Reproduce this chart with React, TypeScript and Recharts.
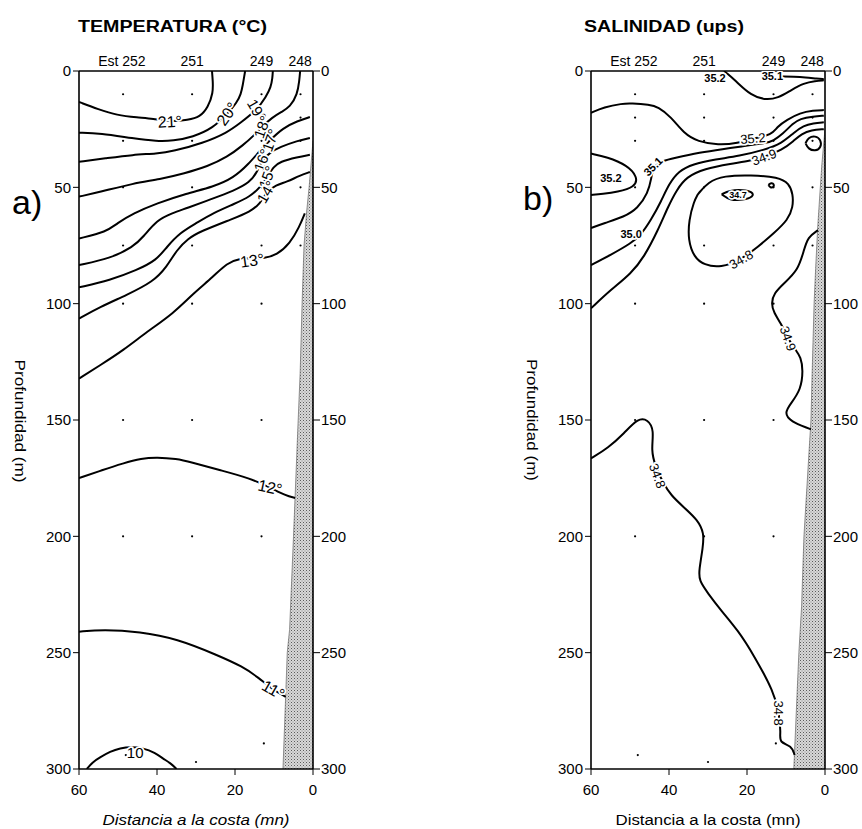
import React from 'react';
import { ComposedChart, XAxis, YAxis, Scatter, Area } from 'recharts';

type P = [number, number];
type L = [number, number, string];

// ---------- axes ----------
const DIST_TICKS = [60, 40, 20, 0];
const DEPTH_TICKS = [0, 50, 100, 150, 200, 250, 300];
const STATION_TICKS = [49, 31, 13.2, 3.3];
const STATION_LABELS = ['Est 252', '251', '249', '248'];

// ---------- sampling stations (distance mn, depth m) ----------
const STATIONS = [48.7, 31, 13.2];
const SAMPLE_DEPTHS_A = [10, 30, 50, 75, 100, 150, 200];
const SAMPLE_DEPTHS_B = [10, 20, 30, 50, 75, 100, 150, 200];
const SHELF_SAMPLES: P[] = [[3.2, 10], [3.2, 20], [3.2, 30], [3.2, 50], [3.2, 75]];
const DEEP_SAMPLES: P[] = [[48, 294], [30, 297], [12.6, 289]];

// ---------- a) temperature contours (distance mn, depth m) ----------
const T21: P[] = [[60, 13.3], [55, 16.5], [50.3, 19], [45, 20], [41, 20.5], [36.7, 21.8], [32, 21], [29, 19.8], [26.9, 15.5], [25.6, 9.5], [25.7, 4], [25.9, 0]];
const T20: P[] = [[60, 26.5], [54.6, 26.7], [46, 29], [40, 30.2], [35.9, 30], [30.8, 28.4], [25.6, 24.5], [22, 18.5], [19.5, 13.5], [18.5, 10], [18, 6], [17.6, 2], [17.4, 0]];
const T19: P[] = [[60, 39], [53, 37.5], [46.2, 36], [40, 35.5], [35.9, 34.5], [28.2, 31], [22, 26.5], [18.7, 22.4], [14.4, 16.8], [12, 11], [10.8, 6.9], [10.4, 3], [10.3, 0]];
const T18: P[] = [[60, 54], [54.6, 52], [46.1, 48.3], [39.2, 46.5], [33, 44], [27, 41], [22, 37], [18, 32], [15, 27.5], [13.1, 24], [10.5, 20], [8, 17.5], [5.9, 15.5], [4, 10], [3.5, 4], [3.3, 0]];
const T17: P[] = [[60, 72], [52.9, 69.1], [50.3, 65.5], [46.1, 61.2], [40.1, 56.9], [32.4, 52.6], [25.6, 49.8], [20.4, 46], [16.5, 40], [13.5, 34], [11, 29.7], [7.7, 24.5], [4, 21.5], [0.8, 19.8]];
const T16: P[] = [[60, 83.4], [52, 80.6], [46.1, 75.6], [43.5, 71.3], [40.1, 64.1], [36, 61], [32.4, 59], [26, 55], [20.4, 51.5], [16.2, 48], [14.2, 43], [13.1, 38.3], [11, 35], [8.5, 32.7], [4, 30], [0.8, 28.8]];
const T15: P[] = [[60, 93], [52, 89.9], [45.2, 85.6], [40.1, 81.3], [37.5, 75.6], [34.1, 69.5], [30, 65.5], [25.6, 61], [20, 57], [16.2, 54], [13.5, 50], [11.8, 45.6], [10, 41], [8.5, 39], [4, 37], [0.8, 36]];
const T14: P[] = [[60, 106.4], [54.6, 101.4], [47.8, 96.3], [41, 90.6], [37.5, 84.2], [35, 77], [32, 72], [29, 69], [20.4, 63.4], [16.2, 60.5], [13.5, 57], [12, 52], [9.5, 49], [6.7, 47.7], [3.5, 45], [0.8, 43.4]];
const T13: P[] = [[60, 132.2], [54.6, 126.5], [48.6, 120], [42.6, 112.1], [35.8, 104.2], [30.7, 95.6], [25.6, 88.5], [22.1, 82.5], [18.5, 80.5], [15.6, 80.5], [12.5, 80.5], [9.3, 79.1], [5.9, 74.1], [3.5, 67], [2.1, 61.2]];
const T12: P[] = [[60, 175], [54, 171.5], [48.7, 168.6], [44, 166.5], [40, 166], [35, 166.7], [31.5, 168], [24, 171.5], [16.2, 175], [11, 179], [7, 182.5], [4.6, 183.5]];
const T11: P[] = [[60, 241], [53.8, 240], [44.4, 241], [34.9, 244], [24.6, 251], [18, 256], [14.1, 260.6], [10.2, 266], [7, 269]];
const T10: P[] = [[58, 300], [56.5, 297], [54.6, 295], [52, 292.5], [49.5, 291], [46.5, 290.5], [43.6, 291], [40.5, 293], [38.5, 295.5], [36.5, 297.5], [35, 300]];
const TEMP_CONTOURS = [T21, T20, T19, T18, T17, T16, T15, T14, T13, T12, T11, T10];

const TEMP_LABELS: L[] = [
  [36.7, 21.8, '21°'], [22, 18.5, '20°'], [14.4, 16.8, '19°'], [13.1, 24, '18°'],
  [11, 29.7, '17°'], [13.1, 38.3, '16°'], [11.8, 45.6, '15°'], [12, 52, '14°'],
  [15.6, 81.5, '13°'], [11, 179, '12°'], [10.2, 266, '11°'], [45.6, 293, '10'],
];
const TEMP_LABEL_ROT = [-3, -55, 60, -70, -70, -70, -70, -60, -8, 12, 30, 0];
const TEMP_LABEL_SIZE = [16, 16, 15, 15, 15, 15, 15, 15, 16, 16, 16, 15];

const COAST_A: P[] = [[0, 30], [1, 50], [1.6, 60], [2.3, 75], [2.8, 100], [3.3, 130], [3.8, 150], [5, 200], [6, 240], [6.6, 250], [7.7, 300]];

// ---------- b) salinity contours ----------
const S352_TOP: P[] = [[25.9, 0], [24, 2.5], [22.3, 5.3], [19, 10.3], [15.6, 12.5], [12, 11.7], [8.7, 8.2], [5.4, 5.2], [2.5, 4.3], [0.3, 4]];
const S351_TOP: P[] = [[11, 2.3], [8, 2.5], [5, 2.8], [2, 3.3], [0.3, 3.5]];
const S352_BIG: P[] = [[60, 18], [56.7, 15.5], [52, 14], [49.7, 13.9], [45, 14.5], [42.8, 15.4], [39.5, 19.7], [36.2, 26.8], [32.6, 30.4], [27.4, 31.8], [22.3, 31], [18.5, 29], [13.6, 27.5], [12.3, 24], [9.8, 21], [6.4, 18], [3, 17], [0.3, 16.8]];
const S352_WEST: P[] = [[60, 35.5], [55.9, 37], [50.8, 40.4], [48, 45.6], [48.7, 49.9], [53.3, 52], [57, 52.8], [60, 53.3]];
const S351: P[] = [[60, 67.5], [56.7, 65.4], [51.5, 62.7], [48, 59], [45.4, 52.5], [44.5, 46], [44.1, 41], [41.5, 38.5], [39, 37.5], [32, 35], [26, 33.5], [21.8, 32.5], [15, 31], [13.3, 30], [10.8, 27], [8.2, 22.5], [6.4, 20.5], [3, 19.5], [0.3, 19.2]];
const S350: P[] = [[60, 83.4], [54.9, 79], [49.7, 74], [47.2, 70.5], [44.6, 64], [42, 56], [40, 48.5], [37.5, 43], [34, 40], [28, 38], [22, 36.5], [15.6, 34], [11, 31], [8, 26.5], [5.5, 23.5], [3, 22.5], [0.3, 22]];
const S349: P[] = [[60, 102], [54.9, 94], [49.7, 87], [46.4, 80], [42.8, 68.4], [40.3, 58.5], [38, 51], [35.5, 45.5], [31, 42], [24, 39.8], [19, 38.5], [15.6, 37], [11, 34], [8, 30], [6, 27], [3.5, 25.3], [0.3, 25]];
const S_SHORE_LOOP: P[] = [[5, 31], [4.2, 28.5], [2.5, 27.8], [1, 29.5], [1, 33], [2.5, 34.5], [4.3, 33.5], [5, 31]];
const S348_MID: P[] = [[32.6, 53], [30, 47.7], [25.9, 45], [19, 44.7], [12, 45.6], [9.2, 48.3], [8.2, 53], [8.2, 58.5], [9.5, 64], [13.1, 69.7], [17.2, 75.6], [21.5, 81], [26.7, 84.6], [31, 83.4], [33.6, 80], [35.1, 72.7], [34.9, 64], [33.6, 56], [32.6, 53]];
const S347: P[] = [[26.5, 53], [24.5, 51.3], [21, 51], [18.5, 52], [18.3, 54], [21, 55.5], [24.5, 55.5], [26.5, 53]];
const S347_DOT: P[] = [[14.5, 49], [13.8, 48], [13, 48.6], [13.2, 50], [14, 50.2], [14.5, 49]];
const S349_COAST: P[] = [[1.8, 68.4], [4.4, 71.4], [5.4, 77], [6.9, 85.6], [10.5, 91.2], [13.1, 95.5], [13.8, 99.8], [13.1, 104], [11.3, 108.4], [9.5, 115], [7.5, 120], [6.2, 123], [5.6, 128.6], [6.2, 137], [8.7, 142.8], [10.5, 147], [8.7, 150.8], [4.4, 153.5], [3.6, 154]];
const S348_LOW: P[] = [[60, 166.5], [55.6, 162], [51.5, 155.7], [48, 149.2], [45.4, 149.7], [43.8, 154.4], [44.6, 163], [43.5, 170], [41.5, 177], [39.5, 182.4], [36.2, 187.5], [32.6, 193], [31, 198.7], [31.3, 204.7], [32.3, 214.6], [32.3, 219], [30, 224.5], [26.7, 231.8], [22.3, 240.4], [18.2, 251.2], [13.1, 267], [11.8, 275.7], [11.3, 284.7], [11.8, 288.6], [8.5, 290], [7.8, 294]];
const SAL_CONTOURS = [S352_TOP, S351_TOP, S352_BIG, S352_WEST, S351, S350, S349, S_SHORE_LOOP, S348_MID, S347, S347_DOT, S349_COAST, S348_LOW];

const SAL_LABELS: L[] = [
  [28.2, 3.2, '35.2'], [13.5, 2.2, '35.1'], [18.5, 29, '35.2'], [54.9, 46, '35.2'],
  [44.1, 41, '35.1'], [49.7, 70, '35.0'], [15.6, 37, '34.9'], [21.5, 81, '34.8'],
  [22.3, 53.3, '34.7'], [9.5, 115, '34.9'], [43, 174, '34.8'], [11.8, 276, '34.8'],
];
const SAL_LABEL_ROT = [0, 0, -5, 0, -45, 0, -20, -30, 0, 70, 70, 90];
const SAL_LABEL_SIZE = [11, 11, 13, 11, 11, 11, 13, 13, 9, 13, 13, 13];

const COAST_B: P[] = [[0, 25], [0.8, 40], [1.4, 55], [1.9, 68], [2.4, 85], [2.8, 100], [3.3, 130], [3.6, 150], [5.4, 200], [6, 230], [6.7, 250], [8, 300]];

// ---------- helpers ----------
const FONT = '"Liberation Sans", Arial, Helvetica, sans-serif';
const xy = (pts: P[]) => pts.map(([x, y]) => ({ x, y }));
const grid = (depths: number[]): P[] => {
  const out: P[] = [];
  STATIONS.forEach((s) => depths.forEach((d) => out.push([s, d])));
  return out.concat(SHELF_SAMPLES, DEEP_SAMPLES);
};
const stationLabel = (v: number) => {
  const i = STATION_TICKS.findIndex((t) => Math.abs(t - v) < 0.01);
  return i >= 0 ? STATION_LABELS[i] : '';
};

const NoShape = () => <g />;
const DotShape = (props: any) => <circle cx={props.cx} cy={props.cy} r={1.1} fill="#000" />;

type PanelProps = {
  contours: P[][];
  labels: L[];
  rot: number[];
  size: number[];
  bold: boolean;
  coast: P[];
  dots: P[];
  width: number;
  margin: { top: number; right: number; bottom: number; left: number };
  rightWidth: number;
  pattern: string;
};

function Panel(p: PanelProps) {
  const labelData = p.labels.map(([x, y, t], i) => ({ x, y, t, i }));
  const LabelShape = (props: any) => {
    const { cx, cy, payload } = props;
    const i = payload.i;
    const s = p.size[i];
    return (
      <text
        x={cx}
        y={cy}
        transform={`rotate(${p.rot[i]} ${cx} ${cy})`}
        textAnchor="middle"
        dominantBaseline="central"
        fontFamily={FONT}
        fontSize={s}
        fontWeight={p.bold && s <= 11 ? 'bold' : 'normal'}
        fill="#000"
        stroke="#fff"
        strokeWidth={3.5}
        strokeLinejoin="round"
        style={{ paintOrder: 'stroke' }}
      >
        {payload.t}
      </text>
    );
  };
  const tickStyle = { fontSize: 15, fill: '#000', fontFamily: FONT };
  const axisStyle = { stroke: '#000', strokeWidth: 1.6 };
  return (
    <ComposedChart width={p.width} height={829} margin={p.margin}>
      <XAxis
        xAxisId="b"
        type="number"
        dataKey="x"
        domain={[0, 60]}
        reversed
        allowDataOverflow
        ticks={DIST_TICKS}
        interval={0}
        height={40}
        tickSize={6}
        tickMargin={9}
        tick={tickStyle}
        axisLine={axisStyle}
        tickLine={{ stroke: '#000' }}
      />
      <XAxis
        xAxisId="t"
        orientation="top"
        type="number"
        dataKey="x"
        domain={[0, 60]}
        reversed
        allowDataOverflow
        ticks={STATION_TICKS}
        interval={0}
        height={30}
        tickSize={3}
        tickMargin={2}
        tickLine={false}
        tickFormatter={stationLabel}
        tick={{ fontSize: 14, fill: '#000', fontFamily: FONT }}
        axisLine={axisStyle}
      />
      <YAxis
        yAxisId="l"
        type="number"
        dataKey="y"
        domain={[0, 300]}
        reversed
        allowDataOverflow
        ticks={DEPTH_TICKS}
        interval={0}
        width={50}
        tickSize={6}
        tickMargin={2}
        tick={tickStyle}
        axisLine={axisStyle}
        tickLine={{ stroke: '#000' }}
      />
      <YAxis
        yAxisId="r"
        orientation="right"
        type="number"
        dataKey="y"
        domain={[0, 300]}
        reversed
        allowDataOverflow
        ticks={DEPTH_TICKS}
        interval={0}
        width={p.rightWidth}
        tickSize={7}
        tickMargin={1}
        tick={tickStyle}
        axisLine={axisStyle}
        tickLine={{ stroke: '#000' }}
      />
      <Area
        xAxisId="b"
        yAxisId="l"
        data={xy(p.coast)}
        dataKey="y"
        type="linear"
        baseValue={300}
        fill={`url(#${p.pattern})`}
        fillOpacity={1}
        stroke="#666"
        strokeWidth={0.7}
        dot={false}
        activeDot={false}
        isAnimationActive={false}
      />
      {p.contours.map((c, i) => (
        <Scatter
          key={i}
          xAxisId="b"
          yAxisId="l"
          data={xy(c)}
          line={{ stroke: '#000', strokeWidth: 2 }}
          lineType="joint"
          lineJointType="basis"
          shape={NoShape}
          isAnimationActive={false}
        />
      ))}
      <Scatter xAxisId="b" yAxisId="l" data={xy(p.dots)} shape={DotShape} isAnimationActive={false} />
      <Scatter xAxisId="b" yAxisId="l" data={labelData} shape={LabelShape} isAnimationActive={false} />
    </ComposedChart>
  );
}

export default function App() {
  return (
    <div style={{ position: 'absolute', left: 0, top: 0, width: 862, height: 829, background: '#fff' }}>
      <div style={{ position: 'absolute', left: 0, top: 0 }}>
        <Panel
          contours={TEMP_CONTOURS}
          labels={TEMP_LABELS}
          rot={TEMP_LABEL_ROT}
          size={TEMP_LABEL_SIZE}
          bold={false}
          coast={COAST_A}
          dots={grid(SAMPLE_DEPTHS_A)}
          width={431}
          margin={{ top: 41, left: 29, right: 68, bottom: 20 }}
          rightWidth={50}
          pattern="stipA"
        />
      </div>
      <div style={{ position: 'absolute', left: 431, top: 0 }}>
        <Panel
          contours={SAL_CONTOURS}
          labels={SAL_LABELS}
          rot={SAL_LABEL_ROT}
          size={SAL_LABEL_SIZE}
          bold={true}
          coast={COAST_B}
          dots={grid(SAMPLE_DEPTHS_B)}
          width={431}
          margin={{ top: 41, left: 110, right: 7, bottom: 20 }}
          rightWidth={30}
          pattern="stipB"
        />
      </div>
      <svg width={862} height={829} style={{ position: 'absolute', left: 0, top: 0, pointerEvents: 'none' }}>
        <defs>
          <pattern id="stipA" width="3" height="3" patternUnits="userSpaceOnUse">
            <rect width="3" height="3" fill="#d8d8d8" />
            <rect x="0" y="0" width="1" height="1" fill="#5a5a5a" />
            <rect x="1.5" y="1.5" width="1" height="1" fill="#8a8a8a" />
          </pattern>
          <pattern id="stipB" width="3" height="3" patternUnits="userSpaceOnUse">
            <rect width="3" height="3" fill="#d8d8d8" />
            <rect x="0" y="0" width="1" height="1" fill="#5a5a5a" />
            <rect x="1.5" y="1.5" width="1" height="1" fill="#8a8a8a" />
          </pattern>
        </defs>
        <g fontFamily={FONT} fill="#000">
          <text x={78} y={32} fontSize={16} fontWeight="bold" textLength={189} lengthAdjust="spacingAndGlyphs">TEMPERATURA (°C)</text>
          <text x={584} y={32} fontSize={16} fontWeight="bold" textLength={160} lengthAdjust="spacingAndGlyphs">SALINIDAD (ups)</text>
          <text x={12} y={214} fontSize={34}>a)</text>
          <text x={523} y={210} fontSize={34}>b)</text>
          <text x={20} y={421} fontSize={14} textAnchor="middle" dominantBaseline="central" transform="rotate(90 20 421)" textLength={123} lengthAdjust="spacingAndGlyphs">Profundidad (m)</text>
          <text x={532} y={420} fontSize={14} textAnchor="middle" dominantBaseline="central" transform="rotate(90 532 420)" textLength={122} lengthAdjust="spacingAndGlyphs">Profundidad (m)</text>
          <text x={196} y={825} fontSize={14} fontStyle="italic" textAnchor="middle" textLength={187} lengthAdjust="spacingAndGlyphs">Distancia a la costa (mn)</text>
          <text x={708} y={825} fontSize={14} textAnchor="middle" textLength={185} lengthAdjust="spacingAndGlyphs">Distancia a la costa (mn)</text>
        </g>
      </svg>
    </div>
  );
}
